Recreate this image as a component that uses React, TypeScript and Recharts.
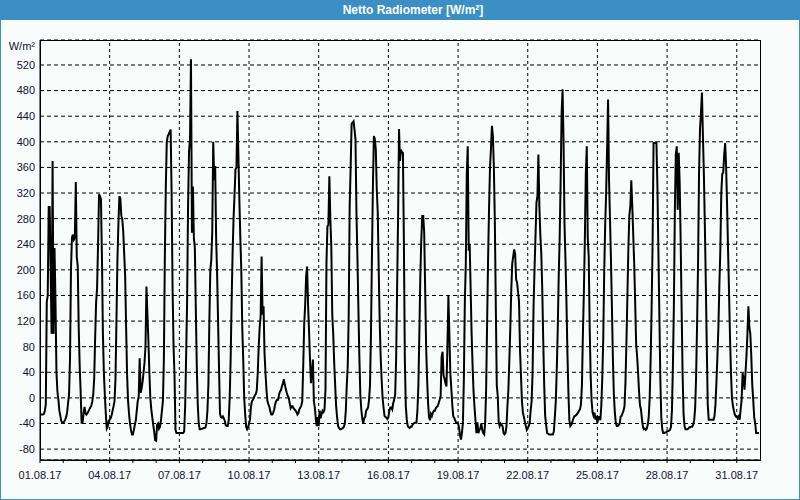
import React from 'react';
import { LineChart, Line, XAxis, YAxis, CartesianGrid, ReferenceLine } from 'recharts';

// --- colours ---
const colors = {
  bar: '#3b8fc5',
  bg: '#f8fcfa',
  ink: '#000000',
  label: '#10103a',
};

// --- hourly net radiation, W/m², one array per day (00:00 .. 23:00) ---
const aug01 = [-26, -26, -26, -26, -25, -20, -10, 150, 160, 298, 298, 200, 100, 370, 100, 234, 150, 40, 10, -3, -20, -28, -36, -39];
const aug02 = [-39, -37, -34, -30, -23, -8, 5, 60, 200, 250, 255, 247, 250, 337, 220, 206, 110, 50, 10, -39, -39, -25, -14, -24];
const aug03 = [-26, -24, -21, -18, -15, -12, -6, 5, 30, 95, 150, 172, 240, 318, 315, 310, 220, 100, 39, 5, -25, -48, -45, -36];
const aug04 = [-34, -32, -27, -20, -13, -5, 30, 120, 215, 270, 315, 312, 285, 279, 260, 225, 190, 110, 35, -5, -25, -40, -50, -57];
const aug05 = [-57, -50, -42, -35, -20, -5, 2, 62, 8, 15, 25, 40, 55, 80, 174, 130, 90, 40, 0, -18, -30, -42, -53, -66];
const aug06 = [-67, -42, -40, -48, -45, -35, -20, -5, 60, 220, 330, 400, 409, 412, 416, 419, 320, 170, 80, 35, -50, -55, -55, -55];
const aug07 = [-55, -55, -55, -55, -55, -52, -13, 65, 150, 300, 385, 404, 529, 258, 330, 250, 235, 140, 50, -10, -40, -49, -49, -48];
const aug08 = [-48, -47, -47, -46, -40, -20, 20, 120, 200, 215, 260, 400, 340, 362, 250, 195, 120, 45, -25, -30, -31, -29, -32, -36];
const aug09 = [-43, -44, -44, -35, 0, 60, 150, 225, 280, 317, 357, 360, 448, 380, 310, 250, 200, 110, 60, 0, -25, -45, -49, -46];
const aug10 = [-40, -34, -14, -5, -3, 0, 4, 6, 12, 39, 80, 110, 128, 221, 130, 143, 70, 39, 13, -5, -10, -14, -21, -26];
const aug11 = [-26, -23, -18, -10, -5, -3, -3, 5, 10, 12, 18, 23, 29, 20, 14, 8, 3, 0, -8, -16, -13, -13, -16, -18];
const aug12 = [-20, -22, -26, -24, -18, -15, -12, -5, 50, 115, 145, 190, 205, 145, 105, 60, 23, 40, 60, -5, -15, -33, -44, -30];
const aug13 = [-44, -20, -32, -25, -20, -22, -18, 13, 210, 268, 270, 346, 280, 237, 130, 100, 55, 20, -13, -30, -44, -47, -49, -49];
const aug14 = [-48, -47, -45, -40, -20, 20, 50, 130, 300, 360, 428, 430, 432, 419, 404, 290, 220, 140, 65, 5, -18, -32, -40, -32];
const aug15 = [-30, -20, -18, -15, -3, 20, 100, 220, 330, 409, 404, 388, 325, 290, 200, 120, 65, 30, 0, -15, -28, -30, -31, -33];
const aug16 = [-30, -20, -15, -15, -18, -8, -3, 5, 60, 170, 280, 420, 370, 388, 383, 383, 247, 60, -13, -34, -44, -46, -47, -45];
const aug17 = [-45, -42, -40, -39, -39, -39, -20, 20, 100, 190, 247, 284, 284, 258, 170, 80, 30, -8, -30, -35, -25, -28, -23, -20];
const aug18 = [-20, -16, -14, -13, -8, -3, 3, 65, 72, 35, 30, 23, 18, 80, 159, 100, 39, 15, -10, -29, -31, -35, -39, -39];
const aug19 = [-40, -46, -58, -65, -55, -39, 30, 150, 210, 350, 393, 230, 240, 170, 100, 50, 10, -15, -35, -55, -38, -55, -50, -48];
const aug20 = [-40, -50, -55, -57, -39, 13, 115, 215, 295, 360, 390, 425, 409, 360, 275, 143, 20, 3, -38, -44, -40, -42, -44, -55];
const aug21 = [-57, -55, -45, -13, 13, 60, 110, 170, 210, 221, 232, 225, 185, 180, 165, 150, 75, 35, -5, -23, -30, -37, -44, -50];
const aug22 = [-47, -44, -39, -20, -5, 39, 143, 200, 252, 305, 315, 380, 300, 255, 225, 170, 90, 20, -28, -42, -55, -56, -57, -57];
const aug23 = [-57, -57, -57, -52, -30, -5, 45, 107, 190, 250, 340, 445, 482, 400, 270, 215, 150, 70, 10, -35, -44, -42, -38, -33];
const aug24 = [-29, -28, -27, -25, -23, -20, -18, -10, 20, 100, 165, 247, 350, 393, 250, 221, 110, 35, -5, -23, -28, -23, -34, -28];
const aug25 = [-39, -30, -30, -35, -13, 30, 91, 195, 268, 320, 388, 466, 340, 279, 215, 140, 60, 5, -23, -39, -44, -44, -42, -40];
const aug26 = [-29, -28, -24, -20, -13, 25, 88, 160, 235, 285, 299, 340, 300, 255, 210, 150, 85, 65, 40, 10, -12, -18, -33, -45];
const aug27 = [-49, -48, -50, -48, -42, -30, 0, 60, 140, 240, 398, 398, 399, 398, 330, 230, 130, 30, -30, -49, -55, -55, -54, -54];
const aug28 = [-52, -52, -51, -50, -45, -20, 50, 143, 290, 380, 393, 294, 383, 335, 247, 140, 39, -25, -44, -49, -49, -49, -48, -46];
const aug29 = [-46, -45, -45, -42, -35, -15, 35, 117, 210, 350, 420, 445, 477, 410, 350, 270, 180, 80, -10, -34, -34, -34, -34, -34];
const aug30 = [-34, -28, -10, 25, 65, 110, 175, 230, 320, 350, 352, 380, 398, 360, 300, 230, 165, 95, 40, 0, -12, -20, -26, -29];
const aug31 = [-29, -32, -29, -34, -18, -3, 39, 30, 13, 39, 65, 100, 143, 110, 100, 65, 20, -3, -30, -39, -55, -55, -55, -55];

const augustDays = [
  aug01, aug02, aug03, aug04, aug05, aug06, aug07, aug08, aug09, aug10,
  aug11, aug12, aug13, aug14, aug15, aug16, aug17, aug18, aug19, aug20,
  aug21, aug22, aug23, aug24, aug25, aug26, aug27, aug28, aug29, aug30, aug31,
];

// --- axis labels ---
const dateLabels = ['01.08.17', '04.08.17', '07.08.17', '10.08.17', '13.08.17', '16.08.17', '19.08.17', '22.08.17', '25.08.17', '28.08.17', '31.08.17'];
const yTicks = [-80, -40, 0, 40, 80, 120, 160, 200, 240, 280, 320, 360, 400, 440, 480, 520];

// hours since 01.08 00:00
const data = augustDays.flatMap((day, d) => day.map((v, h) => ({ t: d * 24 + h, v })));
const dayTicks = augustDays.map((_, d) => d * 24);
const majorTicks = dateLabels.map((_, i) => i * 72);

const formatDay = (t: number) => (t % 72 === 0 ? dateLabels[t / 72] : '');

const tickStyle = { fill: colors.label, fontSize: 11, fontFamily: '"Liberation Sans", Arial, sans-serif' };

export default function App() {
  return (
    <div
      style={{
        position: 'absolute',
        left: 0,
        top: 0,
        width: 800,
        height: 500,
        background: colors.bg,
        fontFamily: '"Liberation Sans", Arial, sans-serif',
        overflow: 'hidden',
      }}
    >
      {/* title bar */}
      <div style={{ position: 'absolute', left: 0, top: 0, width: 800, height: 20, background: colors.bar }} />
      <div
        style={{
          position: 'absolute',
          left: 413,
          top: 3,
          transform: 'translateX(-50%)',
          color: '#ffffff',
          fontWeight: 'bold',
          fontSize: 12,
          lineHeight: '14px',
          whiteSpace: 'nowrap',
        }}
      >
        Netto Radiometer [W/m²]
      </div>

      {/* unit */}
      <div
        style={{
          position: 'absolute',
          left: 0,
          top: 40,
          width: 35,
          textAlign: 'right',
          fontSize: 11,
          lineHeight: '13px',
          color: colors.label,
        }}
      >
        W/m²
      </div>

      <div style={{ position: 'absolute', left: 0, top: 20 }}>
        <LineChart width={800} height={480} data={data} margin={{ top: 20, right: 40, bottom: 10, left: 0 }}>
          <CartesianGrid vertical={false} stroke={colors.ink} strokeDasharray="4 3" />
          <XAxis
            dataKey="t"
            type="number"
            domain={[0, 744]}
            ticks={dayTicks}
            interval={0}
            tickFormatter={formatDay}
            tickSize={3}
            tickMargin={8}
            height={30}
            axisLine={{ stroke: colors.ink }}
            tickLine={{ stroke: colors.ink }}
            tick={tickStyle}
            allowDataOverflow
          />
          <YAxis
            type="number"
            domain={[-97, 559]}
            ticks={yTicks}
            interval={0}
            width={40}
            tickLine={false}
            tickSize={3}
            tickMargin={2}
            axisLine={{ stroke: colors.ink }}
            tick={tickStyle}
            allowDataOverflow
          />
          {majorTicks.slice(1).map((t) => (
            <ReferenceLine key={t} x={t} stroke={colors.ink} strokeDasharray="3 3" />
          ))}
          <Line
            type="linear"
            dataKey="v"
            stroke={colors.ink}
            strokeWidth={2}
            dot={false}
            isAnimationActive={false}
          />
        </LineChart>
      </div>

      {/* plot frame */}
      <div
        style={{
          position: 'absolute',
          left: 40,
          top: 40,
          width: 721,
          height: 421,
          border: `1px solid ${colors.ink}`,
          boxSizing: 'border-box',
          pointerEvents: 'none',
        }}
      />
      {/* window border */}
      <div
        style={{
          position: 'absolute',
          left: 0,
          top: 0,
          width: 800,
          height: 500,
          border: `1px solid ${colors.bar}`,
          boxSizing: 'border-box',
          pointerEvents: 'none',
        }}
      />
    </div>
  );
}
